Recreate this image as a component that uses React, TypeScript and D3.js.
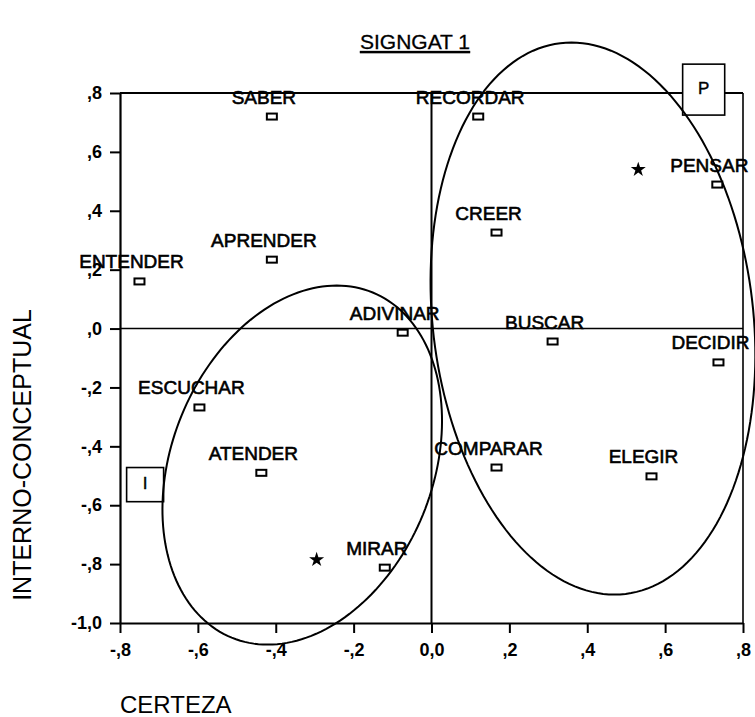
import React, { useEffect, useRef } from "react";
import * as d3 from "d3";

// verbs and their coordinates
const verbs = ["SABER", "RECORDAR", "PENSAR", "CREER", "APRENDER", "ENTENDER", "ADIVINAR", "BUSCAR", "DECIDIR", "ESCUCHAR", "ATENDER", "COMPARAR", "ELEGIR", "MIRAR"];
const certeza = [-0.41, 0.12, 0.734, 0.167, -0.41, -0.75, -0.074, 0.311, 0.737, -0.596, -0.437, 0.167, 0.565, -0.12];
const interno = [0.72, 0.72, 0.489, 0.326, 0.234, 0.16, -0.014, -0.044, -0.115, -0.268, -0.49, -0.472, -0.502, -0.812];

// group centroids (stars)
const starCerteza = [0.531, -0.295];
const starInterno = [0.54, -0.785];

// group tags
const tagText = ["P", "I"];
const tagX0 = [0.645, -0.783];
const tagX1 = [0.753, -0.688];
const tagY0 = [0.725, -0.588];
const tagY1 = [0.898, -0.472];

// group ellipses: centre, half height, half horizontal chord, shift of the top point
const ellCx = [-0.332, 0.4146];
const ellCy = [-0.4637, 0.034];
const ellHalfH = [0.6097, 0.9375];
const ellHalfChord = [0.3479, 0.4134];
const ellTopShift = [0.0886, -0.0552];

const xTickValues = [-0.8, -0.6, -0.4, -0.2, 0, 0.2, 0.4, 0.6, 0.8];
const xTickLabels = ["-,8", "-,6", "-,4", "-,2", "0,0", ",2", ",4", ",6", ",8"];
const yTickValues = [0.8, 0.6, 0.4, 0.2, 0, -0.2, -0.4, -0.6, -0.8, -1.0];
const yTickLabels = [",8", ",6", ",4", ",2", ",0", "-,2", "-,4", "-,6", "-,8", "-1,0"];

const FONT = "'Liberation Sans', Arial, Helvetica, sans-serif";

export default function App() {
	const ref = useRef(null);

	useEffect(() => {
		const width = 755;
		const height = 717;
		const svg = d3.select(ref.current);
		svg.selectAll("*").remove();

		const x = d3.scaleLinear().domain([-0.8, 0.8]).range([120, 743]);
		const y = d3.scaleLinear().domain([-1.0, 0.8]).range([623, 93]);

		// title
		svg
			.append("text")
			.attr("x", 415)
			.attr("y", 49)
			.attr("text-anchor", "middle")
			.attr("font-family", FONT)
			.attr("font-size", 21)
			.attr("stroke", "#000")
			.attr("stroke-width", 0.3)
			.attr("text-decoration", "underline")
			.text("SIGNGAT 1");

		// frame top and right
		svg.append("line").attr("x1", x(-0.8)).attr("x2", x(0.8)).attr("y1", y(0.8)).attr("y2", y(0.8)).attr("stroke", "#000").attr("stroke-width", 2.2);
		svg.append("line").attr("x1", x(0.8)).attr("x2", x(0.8)).attr("y1", y(0.8)).attr("y2", y(-1)).attr("stroke", "#000").attr("stroke-width", 1.6);

		// zero lines
		svg.append("line").attr("x1", x(-0.8)).attr("x2", x(0.8)).attr("y1", y(0)).attr("y2", y(0)).attr("stroke", "#000").attr("stroke-width", 1.6);
		svg.append("line").attr("x1", x(0)).attr("x2", x(0)).attr("y1", y(0.8)).attr("y2", y(-1)).attr("stroke", "#000").attr("stroke-width", 2);

		const xAxis = svg
			.append("g")
			.attr("transform", `translate(0, ${y(-1)})`)
			.call(
				d3
					.axisBottom(x)
					.tickValues(xTickValues)
					.tickSize(10)
					.tickSizeOuter(0)
					.tickPadding(10)
					.tickFormat((d, i) => xTickLabels[i])
			);
		const yAxis = svg
			.append("g")
			.attr("transform", `translate(${x(-0.8)}, 0)`)
			.call(
				d3
					.axisLeft(y)
					.tickValues(yTickValues)
					.tickSize(10)
					.tickSizeOuter(0)
					.tickPadding(8)
					.tickFormat((d, i) => yTickLabels[i])
			);
		[xAxis, yAxis].forEach((g) => {
			g.select(".domain").attr("stroke-width", 2.2);
			g.selectAll(".tick line").attr("stroke-width", 2);
			g.selectAll(".tick text").attr("font-family", FONT).attr("font-size", 18).attr("font-weight", "bold").attr("fill", "#000");
		});

		// axis titles
		svg
			.append("text")
			.attr("transform", `translate(31, 455) rotate(-90)`)
			.attr("text-anchor", "middle")
			.attr("font-family", FONT)
			.attr("font-size", 25)
			.text("INTERNO-CONCEPTUAL");
		svg
			.append("text")
			.attr("x", 120)
			.attr("y", 713)
			.attr("font-family", FONT)
			.attr("font-size", 24)
			.text("CERTEZA");

		// tags
		tagText.forEach((t, i) => {
			svg
				.append("rect")
				.attr("x", x(tagX0[i]))
				.attr("y", y(tagY1[i]))
				.attr("width", x(tagX1[i]) - x(tagX0[i]))
				.attr("height", y(tagY0[i]) - y(tagY1[i]))
				.attr("fill", "#fff")
				.attr("stroke", "#000")
				.attr("stroke-width", 1.6);
			svg
				.append("text")
				.attr("x", (x(tagX0[i]) + x(tagX1[i])) / 2)
				.attr("y", (y(tagY0[i]) + y(tagY1[i])) / 2 + 4)
				.attr("text-anchor", "middle")
				.attr("font-family", FONT)
				.attr("font-size", 17)
				.attr("stroke", "#000")
				.attr("stroke-width", 0.4)
				.text(t);
		});

		// ellipses
		const steps = d3.range(0, 2 * Math.PI, Math.PI / 90);
		const line = d3
			.line()
			.x((d) => x(d[0]))
			.y((d) => y(d[1]))
			.curve(d3.curveLinearClosed);
		ellCx.forEach((cx, i) => {
			const pts = steps.map((t) => [cx + ellHalfChord[i] * Math.cos(t) + ellTopShift[i] * Math.sin(t), ellCy[i] + ellHalfH[i] * Math.sin(t)]);
			svg.append("path").attr("d", line(pts)).attr("fill", "none").attr("stroke", "#000").attr("stroke-width", 2);
		});

		// points
		svg
			.selectAll(".pt")
			.data(verbs)
			.enter()
			.append("rect")
			.attr("class", "pt")
			.attr("x", (d, i) => x(certeza[i]) - 5)
			.attr("y", (d, i) => y(interno[i]) - 3)
			.attr("width", 10)
			.attr("height", 6)
			.attr("fill", "#fff")
			.attr("stroke", "#000")
			.attr("stroke-width", 2);

		svg
			.selectAll(".lbl")
			.data(verbs)
			.enter()
			.append("text")
			.attr("class", "lbl")
			.attr("x", (d, i) => x(certeza[i]) - 8)
			.attr("y", (d, i) => y(interno[i]) - 13)
			.attr("text-anchor", "middle")
			.attr("font-family", FONT)
			.attr("font-size", 19)
			.attr("stroke", "#000")
			.attr("stroke-width", 0.6)
			.text((d) => d);

		// stars
		starCerteza.forEach((sx, i) => {
			svg
				.append("path")
				.attr("d", d3.symbol(d3.symbolStar, 70)())
				.attr("transform", `translate(${x(sx)}, ${y(starInterno[i])})`)
				.attr("fill", "#000");
		});

		svg.attr("width", width).attr("height", height);
	}, []);

	return <svg ref={ref} width={755} height={717} style={{ position: "absolute", left: 0, top: 0, display: "block", background: "#fff" }} />;
}
